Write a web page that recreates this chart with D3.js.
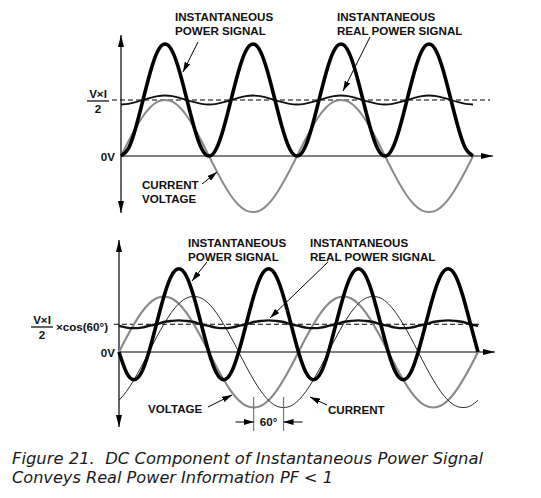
<html>

<head>
    <style>
        body { margin: 0; background: #fff; }
        text { font-family: "Liberation Sans", Arial, sans-serif; }
        .lbl { font-size: 11.6px; font-weight: bold; fill: #111; }
        .cap { font-family: "DejaVu Sans", sans-serif; font-size: 16px; font-style: italic; fill: #1a1a1a; white-space: pre; }
    </style>
</head>

<body>
    <svg id="container" width="541" height="498"></svg>
</body>
<script src="https://cdn.jsdelivr.net/npm/d3@7"></script>
<script>
    // phase of the voltage, degrees, sampled every 15 degrees
    const phaseDeg = [0, 15, 30, 45, 60, 75, 90, 105, 120, 135, 150, 165, 180, 195, 210, 225, 240, 255, 270, 285, 300, 315, 330, 345,
        360, 375, 390, 405, 420, 435, 450, 465, 480, 495, 510, 525, 540, 555, 570, 585, 600, 615, 630, 645, 660, 675, 690, 705, 720]

    // voltage (also current in the top panel, in phase)
    const voltage = [0, .26, .5, .71, .87, .97, 1, .97, .87, .71, .5, .26, 0, -.26, -.5, -.71, -.87, -.97, -1, -.97, -.87, -.71, -.5, -.26,
        0, .26, .5, .71, .87, .97, 1, .97, .87, .71, .5, .26, 0, -.26, -.5, -.71, -.87, -.97, -1, -.97, -.87, -.71, -.5, -.26, 0]
    // top panel: PF = 1
    const powerTop = [0, .13, .5, 1, 1.5, 1.87, 2, 1.87, 1.5, 1, .5, .13, 0, .13, .5, 1, 1.5, 1.87, 2, 1.87, 1.5, 1, .5, .13,
        0, .13, .5, 1, 1.5, 1.87, 2, 1.87, 1.5, 1, .5, .13, 0, .13, .5, 1, 1.5, 1.87, 2, 1.87, 1.5, 1, .5, .13, 0]
    const realTop = [.92, .93, .96, 1, 1.04, 1.07, 1.08, 1.07, 1.04, 1, .96, .93, .92, .93, .96, 1, 1.04, 1.07, 1.08, 1.07, 1.04, 1, .96, .93,
        .92, .93, .96, 1, 1.04, 1.07, 1.08, 1.07, 1.04, 1, .96, .93, .92, .93, .96, 1, 1.04, 1.07, 1.08, 1.07, 1.04, 1, .96, .93, .92]
    const avgTop = 1

    // bottom panel: current lags voltage by 60 degrees
    const currentBot = [-.87, -.71, -.5, -.26, 0, .26, .5, .71, .87, .97, 1, .97, .87, .71, .5, .26, 0, -.26, -.5, -.71, -.87, -.97, -1, -.97,
        -.87, -.71, -.5, -.26, 0, .26, .5, .71, .87, .97, 1, .97, .87, .71, .5, .26, 0, -.26, -.5, -.71, -.87, -.97, -1, -.97, -.87]
    const powerBot = [0, -.37, -.5, -.37, 0, .5, 1, 1.37, 1.5, 1.37, 1, .5, 0, -.37, -.5, -.37, 0, .5, 1, 1.37, 1.5, 1.37, 1, .5,
        0, -.37, -.5, -.37, 0, .5, 1, 1.37, 1.5, 1.37, 1, .5, 0, -.37, -.5, -.37, 0, .5, 1, 1.37, 1.5, 1.37, 1, .5, 0]
    const realBot = [.47, .44, .43, .44, .47, .5, .54, .56, .57, .56, .54, .5, .47, .44, .43, .44, .47, .5, .54, .56, .57, .56, .54, .5,
        .47, .44, .43, .44, .47, .5, .54, .56, .57, .56, .54, .5, .47, .44, .43, .44, .47, .5, .54, .56, .57, .56, .54, .5, .47]
    const avgBot = 0.5
    const lagDeg = 60

    const caption = ["Figure 21.  DC Component of Instantaneous Power Signal",
        "Conveys Real Power Information PF < 1"]

    let svg = d3.select("#container")

    // arrowheads
    let defs = svg.append("defs")
    defs.append("marker").attr("id", "axisArrow")
        .attr("viewBox", "0 0 12 6").attr("refX", 12).attr("refY", 3)
        .attr("markerWidth", 12).attr("markerHeight", 6).attr("markerUnits", "userSpaceOnUse")
        .attr("orient", "auto")
        .append("path").attr("d", "M0,0 L12,3 L0,6 Z").attr("fill", "#000")
    defs.append("marker").attr("id", "noteArrow")
        .attr("viewBox", "0 0 10 6").attr("refX", 10).attr("refY", 3)
        .attr("markerWidth", 10).attr("markerHeight", 6).attr("markerUnits", "userSpaceOnUse")
        .attr("orient", "auto")
        .append("path").attr("d", "M0,0 L10,3 L0,6 Z").attr("fill", "#000")

    function panel(x, y, yTop, yBottom, xEnd, series) {
        // axes
        svg.append("line")
            .attr("x1", x(0)).attr("x2", x(0))
            .attr("y1", y(0)).attr("y2", yTop)
            .attr("stroke", "#000").attr("stroke-width", 1.2)
            .attr("marker-end", "url(#axisArrow)")
        svg.append("line")
            .attr("x1", x(0)).attr("x2", x(0))
            .attr("y1", y(0)).attr("y2", yBottom)
            .attr("stroke", "#000").attr("stroke-width", 1.2)
            .attr("marker-end", "url(#axisArrow)")
        svg.append("line")
            .attr("x1", x(0)).attr("x2", xEnd)
            .attr("y1", y(0)).attr("y2", y(0))
            .attr("stroke", "#000").attr("stroke-width", 1.2)
            .attr("marker-end", "url(#axisArrow)")

        series.forEach(s => {
            let line = d3.line()
                .x((d, i) => x(phaseDeg[i]))
                .y(d => y(d))
                .curve(d3.curveNatural)
            svg.append("path")
                .datum(s.values)
                .attr("d", line)
                .attr("fill", "none")
                .attr("stroke", s.color)
                .attr("stroke-width", s.width)
                .attr("stroke-linejoin", "round")
        })
    }

    function dashed(x1, x2, yv) {
        svg.append("line")
            .attr("x1", x1).attr("x2", x2).attr("y1", yv).attr("y2", yv)
            .attr("stroke", "#000").attr("stroke-width", 1)
            .attr("stroke-dasharray", "5,3")
    }

    function label(x, y, lines) {
        lines.forEach((t, i) => {
            svg.append("text").attr("class", "lbl")
                .attr("x", x).attr("y", y + i * 14).text(t)
        })
    }

    function arrow(x1, y1, x2, y2) {
        svg.append("line")
            .attr("x1", x1).attr("y1", y1).attr("x2", x2).attr("y2", y2)
            .attr("stroke", "#000").attr("stroke-width", 1)
            .attr("marker-end", "url(#noteArrow)")
    }

    // ---------- top panel ----------
    let xTop = d3.scaleLinear().domain([0, 720]).range([121, 473])
    let yTopS = d3.scaleLinear().domain([0, 1]).range([156, 100])

    dashed(112, 490, yTopS(avgTop))
    panel(xTop, yTopS, 35, 213, 493, [
        { values: voltage, color: "#8a8a8a", width: 2 },
        { values: realTop, color: "#111", width: 1.8 },
        { values: powerTop, color: "#000", width: 3.6 }
    ])

    label(175, 21, ["INSTANTANEOUS", "POWER SIGNAL"])
    label(337, 21, ["INSTANTANEOUS", "REAL POWER SIGNAL"])
    label(142, 189, ["CURRENT", "VOLTAGE"])
    arrow(198, 42, 183, 72)
    arrow(370, 37, 343, 91)
    arrow(202, 184, 217, 172)

    // V x I / 2 label
    svg.append("text").attr("class", "lbl").attr("x", 98).attr("y", 98)
        .attr("text-anchor", "middle").text("V×I")
    svg.append("line").attr("x1", 87).attr("x2", 109)
        .attr("y1", yTopS(avgTop) + 1).attr("y2", yTopS(avgTop) + 1)
        .attr("stroke", "#000").attr("stroke-width", 1.2)
    svg.append("text").attr("class", "lbl").attr("x", 98).attr("y", 113)
        .attr("text-anchor", "middle").text("2")
    svg.append("text").attr("class", "lbl").attr("x", 115).attr("y", yTopS(0) + 5)
        .attr("text-anchor", "end").text("0V")

    // ---------- bottom panel ----------
    let xBot = d3.scaleLinear().domain([0, 720]).range([119, 478])
    let yBotS = d3.scaleLinear().domain([0, 1]).range([352, 296.5])

    dashed(114, 480, yBotS(avgBot))
    panel(xBot, yBotS, 240, 427, 495, [
        { values: voltage, color: "#8a8a8a", width: 2.2 },
        { values: currentBot, color: "#111", width: 0.9 },
        { values: realBot, color: "#111", width: 2.4 },
        { values: powerBot, color: "#000", width: 3.6 }
    ])

    label(188, 247, ["INSTANTANEOUS", "POWER SIGNAL"])
    label(310, 247, ["INSTANTANEOUS", "REAL POWER SIGNAL"])
    label(148, 413, ["VOLTAGE"])
    label(328, 414, ["CURRENT"])
    arrow(207, 262, 192, 281)
    arrow(328, 262, 270, 318)
    arrow(208, 407, 232, 395)
    arrow(327, 405, 310, 397)

    // 60 degree phase marker between voltage and current troughs
    let tV = xBot(270), tI = xBot(270 + lagDeg)
    svg.selectAll(".lagMark").data([tV, tI]).join("line")
        .attr("class", "lagMark")
        .attr("x1", d => d).attr("x2", d => d).attr("y1", 397).attr("y2", 431)
        .attr("stroke", "#777").attr("stroke-width", 1.2)
    arrow(tV - 18, 422, tV, 422)
    arrow(tI + 19, 422, tI, 422)
    svg.append("text").attr("class", "lbl").attr("x", (tV + tI) / 2).attr("y", 426)
        .attr("text-anchor", "middle").text(lagDeg + "°")

    svg.append("text").attr("class", "lbl").attr("x", 42).attr("y", 324)
        .attr("text-anchor", "middle").text("V×I")
    svg.append("line").attr("x1", 31).attr("x2", 53).attr("y1", 327).attr("y2", 327)
        .attr("stroke", "#000").attr("stroke-width", 1.2)
    svg.append("text").attr("class", "lbl").attr("x", 42).attr("y", 339)
        .attr("text-anchor", "middle").text("2")
    svg.append("text").attr("class", "lbl").attr("x", 56).attr("y", 331)
        .text("×cos(60°)")
    svg.append("text").attr("class", "lbl").attr("x", 115).attr("y", yBotS(0) + 5)
        .attr("text-anchor", "end").text("0V")

    // caption
    svg.selectAll(".cap").data(caption).join("text")
        .attr("class", "cap")
        .attr("x", 12).attr("y", (d, i) => 464 + i * 19)
        .attr("textLength", (d, i) => i == 0 ? 471 : 321)
        .attr("lengthAdjust", "spacingAndGlyphs")
        .text(d => d)
</script>

</html>
